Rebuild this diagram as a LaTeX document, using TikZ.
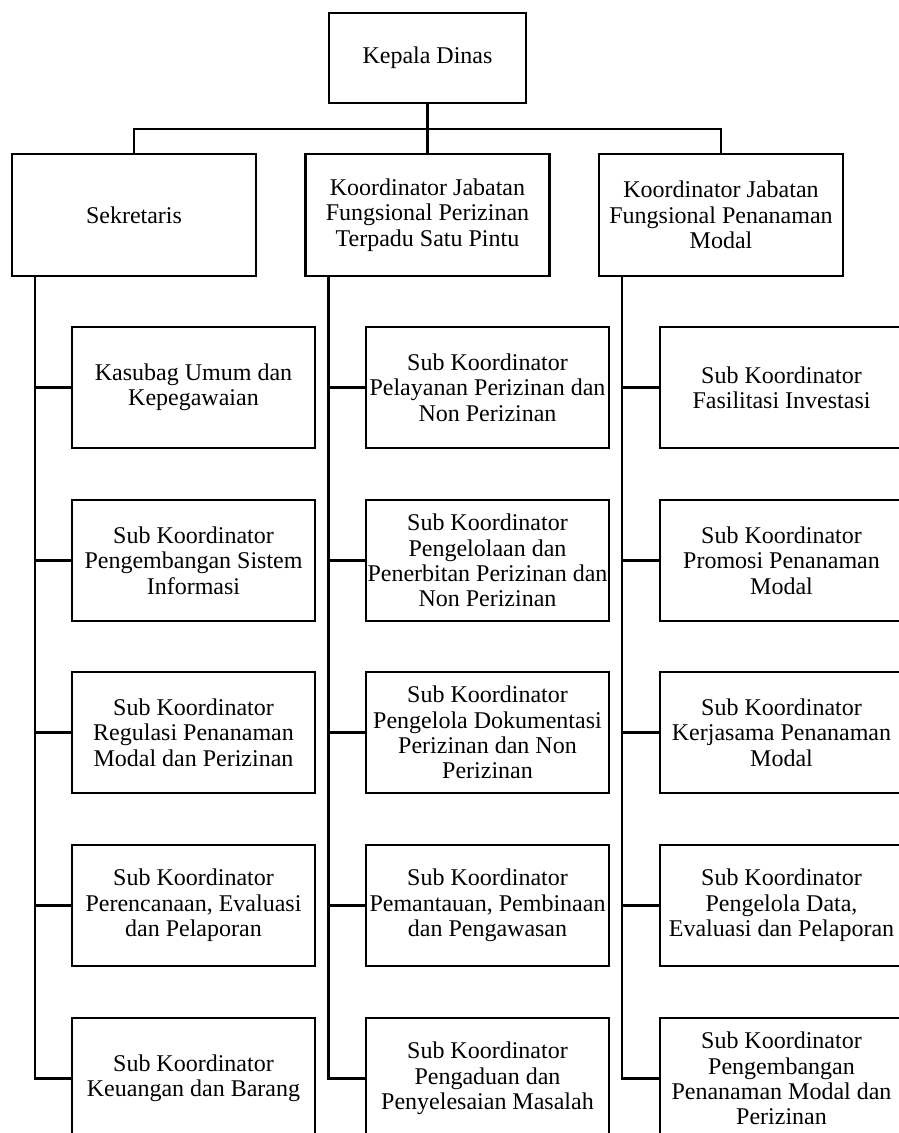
\documentclass[tikz,border=0pt]{standalone}
\usepackage{fontspec}
\setmainfont{Liberation Serif}
\usepackage{tikz}

\tikzset{
  box/.style={draw, line width=1.8pt, align=center, inner xsep=0pt, font=\fontsize{18}{19}\selectfont},
  topbox/.style={box, minimum width=147.75pt, minimum height=67.5pt},
  headbox/.style={box, minimum width=183pt, minimum height=91.5pt},
  subbox/.style={box, minimum width=182.25pt, minimum height=90.75pt},
  link/.style={line width=1.8pt}
}

\begin{document}
\begin{tikzpicture}[x=0.75pt,y=-0.75pt]
\useasboundingbox (0,0) rectangle (899,1133);
\node[topbox] (kd) at (427.5,58) {Kepala Dinas};
\node[headbox] (sek) at (134,215) {Sekretaris};
\node[headbox] (ptsp) at (427.5,215) {Koordinator Jabatan\\Fungsional Perizinan\\Terpadu Satu Pintu};
\node[headbox] (pm) at (721,215) {Koordinator Jabatan\\Fungsional Penanaman\\Modal};

\node[subbox] (sek1) at (193.5,387.5) {Kasubag Umum dan\\Kepegawaian};
\node[subbox] (sek2) at (193.5,560.5) {Sub Koordinator\\Pengembangan Sistem\\Informasi};
\node[subbox] (sek3) at (193.5,732.5) {Sub Koordinator\\Regulasi Penanaman\\Modal dan Perizinan};
\node[subbox] (sek4) at (193.5,905.5) {Sub Koordinator\\Perencanaan, Evaluasi\\dan Pelaporan};
\node[subbox] (sek5) at (193.5,1078.5) {Sub Koordinator\\Keuangan dan Barang};

\node[subbox] (ptsp1) at (487.5,387.5) {Sub Koordinator\\Pelayanan Perizinan dan\\Non Perizinan};
\node[subbox] (ptsp2) at (487.5,560.5) {Sub Koordinator\\Pengelolaan dan\\Penerbitan Perizinan dan\\Non Perizinan};
\node[subbox] (ptsp3) at (487.5,732.5) {Sub Koordinator\\Pengelola Dokumentasi\\Perizinan dan Non\\Perizinan};
\node[subbox] (ptsp4) at (487.5,905.5) {Sub Koordinator\\Pemantauan, Pembinaan\\dan Pengawasan};
\node[subbox] (ptsp5) at (487.5,1078.5) {Sub Koordinator\\Pengaduan dan\\Penyelesaian Masalah};

\node[subbox] (pm1) at (781.5,387.5) {Sub Koordinator\\Fasilitasi Investasi};
\node[subbox] (pm2) at (781.5,560.5) {Sub Koordinator\\Promosi Penanaman\\Modal};
\node[subbox] (pm3) at (781.5,732.5) {Sub Koordinator\\Kerjasama Penanaman\\Modal};
\node[subbox] (pm4) at (781.5,905.5) {Sub Koordinator\\Pengelola Data,\\Evaluasi dan Pelaporan};
\node[subbox] (pm5) at (781.5,1078.5) {Sub Koordinator\\Pengembangan\\Penanaman Modal dan\\Perizinan};

\coordinate (bus) at (427.5,129);
\draw[link] (kd) -- (ptsp);
\draw[link] (sek.north) |- (bus) -| (pm.north);

\foreach \c in {sek,ptsp,pm}{
  \coordinate (\c spine) at ([xshift=18pt]\c.south west);
  \draw[link] (\c spine) |- (\c5.west);
  \foreach \i in {1,...,4}
    \draw[link] (\c\i.west) -- (\c\i.west -| \c spine);
}
\end{tikzpicture}
\end{document}
